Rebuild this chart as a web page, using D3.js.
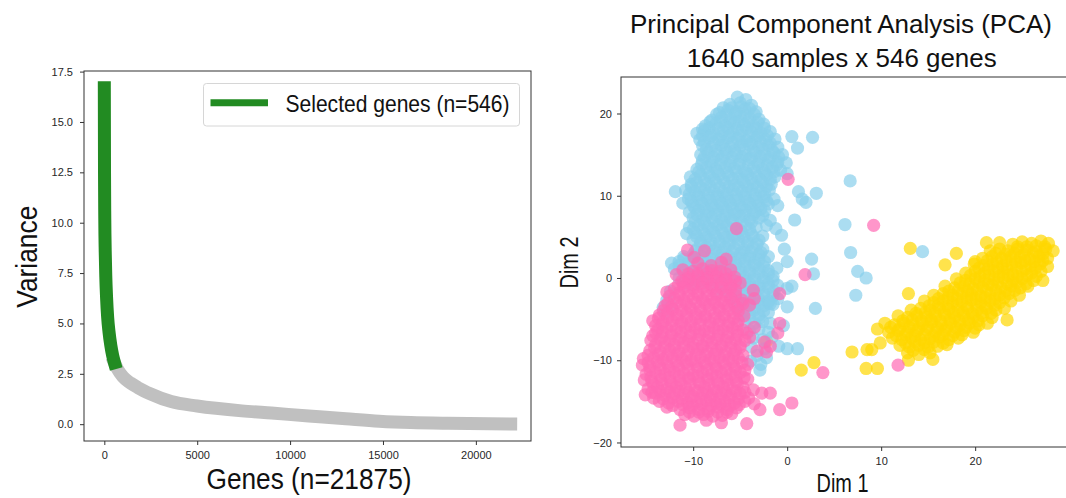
<!DOCTYPE html>
<html>
<head>
<meta charset="utf-8">
<script src="https://cdn.jsdelivr.net/npm/d3@7"></script>
<style>
  html, body { margin: 0; padding: 0; background: #fff; }
  svg { display: block; }
</style>
</head>
<body>
<svg id="fig" width="1066" height="498"></svg>
<script>
// ---------------------------------------------------------------
// Gene variance ranking: [gene rank, variance]
// ---------------------------------------------------------------
const nGenes = 21875;
const nSelected = 546;
const selectedCurve = [
  [0, 16.7], [10, 12.5], [25, 10.2], [50, 8.5], [80, 7.3], [120, 6.3],
  [180, 5.3], [250, 4.6], [350, 3.9], [450, 3.4], [546, 3.05]
];
const remainingCurve = [
  [546, 3.05], [700, 2.75], [1000, 2.35], [1400, 2.05], [1800, 1.82],
  [2500, 1.5], [3600, 1.12], [5000, 0.9], [7400, 0.66], [9000, 0.55],
  [11000, 0.41], [13000, 0.27], [14800, 0.15], [16500, 0.08],
  [18500, 0.04], [21874, 0.01]
];
const varianceTicks = [0, 2.5, 5, 7.5, 10, 12.5, 15, 17.5];
const geneTicks = [0, 5000, 10000, 15000, 20000];

// ---------------------------------------------------------------
// PCA scores of the samples (Dim 1, Dim 2), one array per group
// ---------------------------------------------------------------
const pcaXTicks = [-10, 0, 10, 20];
const pcaYTicks = [-20, -10, 0, 10, 20];

const groupBlue = [
  [-5.3,22.0],[-4.4,21.7],
  [-6.1,21.1],[-5.0,21.3],[-3.8,21.0],
  [-6.8,20.7],[-5.9,20.7],[-4.9,20.8],[-4.0,20.6],
  [-7.2,20.1],[-6.3,20.4],[-5.4,20.2],[-4.5,20.5],[-3.3,20.2],
  [-7.5,19.9],[-6.5,19.8],[-5.5,19.9],[-4.5,19.8],[-3.5,19.9],
  [-8.0,19.2],[-7.0,19.5],[-6.0,19.3],[-5.0,19.6],[-4.0,19.4],[-3.0,19.3],
  [-8.2,19.0],[-7.1,19.0],[-6.1,18.9],[-5.1,19.0],[-4.1,19.0],[-3.1,18.9],
  [-8.7,18.5],[-7.6,18.7],[-6.6,18.5],[-5.6,18.8],[-4.6,18.6],[-3.6,18.5],[-2.5,18.7],
  [-9.0,18.1],[-8.3,18.2],[-7.3,18.1],[-6.3,18.2],[-5.3,18.1],[-4.3,18.2],[-3.3,18.1],[-2.4,18.2],
  [-9.6,17.6],[-8.8,17.9],[-7.8,17.6],[-6.8,17.8],[-5.8,17.6],[-4.8,17.9],[-3.8,17.7],[-2.8,17.6],[-1.8,17.8],
  [-9.0,17.3],[-8.1,17.3],[-7.1,17.2],[-6.1,17.3],[-5.1,17.3],[-4.1,17.2],[-3.1,17.3],[-2.1,17.3],
  [-9.3,16.8],[-8.3,17.0],[-7.3,16.8],[-6.3,17.0],[-5.3,16.9],[-4.3,16.7],[-3.3,17.0],[-2.3,16.8],[-1.3,16.9],
  [-8.8,16.5],[-7.8,16.4],[-6.8,16.5],[-5.8,16.4],[-4.8,16.5],[-3.8,16.4],[-2.8,16.5],[-1.8,16.4],
  [-9.0,16.1],[-8.0,15.9],[-7.0,16.1],[-6.0,15.9],[-5.0,16.0],[-4.0,16.2],[-3.0,15.9],[-2.0,16.1],[-1.0,15.9],
  [-8.6,15.6],[-7.6,15.5],[-6.6,15.6],[-5.6,15.5],[-4.6,15.6],[-3.6,15.5],[-2.6,15.6],[-1.6,15.5],
  [-9.2,15.0],[-8.4,15.2],[-7.4,15.0],[-6.4,15.2],[-5.4,15.1],[-4.4,14.9],[-3.4,15.2],[-2.4,15.0],[-1.4,15.2],[-0.5,15.0],
  [-8.8,14.7],[-7.8,14.6],[-6.8,14.7],[-5.8,14.6],[-4.8,14.7],[-3.8,14.6],[-2.8,14.7],[-1.8,14.6],[-0.9,14.7],
  [-9.0,14.3],[-8.0,14.1],[-7.0,14.3],[-6.0,14.1],[-5.0,14.2],[-4.0,14.4],[-3.0,14.1],[-2.0,14.3],[-1.0,14.1],[-0.1,14.0],
  [-9.1,13.8],[-8.1,13.7],[-7.1,13.8],[-6.1,13.7],[-5.1,13.8],[-4.1,13.7],[-3.1,13.8],[-2.1,13.7],[-1.1,13.8],
  [-9.6,13.2],[-8.6,13.4],[-7.6,13.2],[-6.6,13.4],[-5.6,13.3],[-4.6,13.1],[-3.6,13.4],[-2.6,13.2],[-1.6,13.4],[-0.7,13.1],
  [-9.4,12.9],[-8.4,12.8],[-7.4,12.9],[-6.4,12.8],[-5.4,12.9],[-4.4,12.8],[-3.4,12.9],[-2.4,12.8],[-1.4,12.9],
  [-10.3,12.3],[-9.2,12.5],[-8.2,12.3],[-7.2,12.5],[-6.2,12.4],[-5.2,12.2],[-4.2,12.5],[-3.2,12.3],[-2.2,12.5],[-1.3,12.3],
  [-9.8,12.0],[-8.8,11.9],[-7.8,12.0],[-6.8,11.9],[-5.8,12.0],[-4.8,11.9],[-3.8,12.0],[-2.8,11.9],[-1.8,12.0],
  [-10.2,11.4],[-9.6,11.6],[-8.6,11.4],[-7.6,11.6],[-6.6,11.5],[-5.6,11.3],[-4.6,11.6],[-3.6,11.4],[-2.6,11.6],[-1.7,11.4],
  [-10.2,11.1],[-9.2,11.0],[-8.2,11.1],[-7.2,11.0],[-6.2,11.1],[-5.2,11.0],[-4.2,11.1],[-3.2,11.0],[-2.2,11.1],
  [-11.9,10.5],[-10.8,10.7],[-9.8,10.5],[-8.8,10.7],[-7.8,10.6],[-6.8,10.4],[-5.8,10.7],[-4.8,10.5],[-3.8,10.7],[-2.8,10.5],[-1.9,10.7],
  [-10.4,10.2],[-9.4,10.1],[-8.4,10.2],[-7.4,10.1],[-6.4,10.2],[-5.4,10.1],[-4.4,10.2],[-3.4,10.1],[-2.4,10.2],
  [-10.5,9.6],[-9.5,9.8],[-8.5,9.6],[-7.5,9.8],[-6.5,9.7],[-5.5,9.5],[-4.5,9.8],[-3.5,9.6],[-2.5,9.8],[-1.4,9.6],
  [-10.2,9.3],[-9.2,9.3],[-8.2,9.4],[-7.2,9.3],[-6.2,9.3],[-5.2,9.4],[-4.2,9.3],[-3.2,9.3],[-2.2,9.4],
  [-11.1,9.1],[-10.0,8.8],[-9.0,9.0],[-8.0,8.8],[-7.0,9.0],[-6.0,8.9],[-5.0,8.7],[-4.0,9.0],[-3.0,8.8],[-2.0,9.0],[-1.0,8.8],
  [-9.8,8.5],[-8.8,8.4],[-7.8,8.5],[-6.8,8.5],[-5.8,8.4],[-4.8,8.5],[-3.8,8.5],[-2.8,8.4],
  [-10.4,8.0],[-9.4,8.2],[-8.4,8.0],[-7.4,8.2],[-6.4,8.1],[-5.4,7.9],[-4.4,8.2],[-3.4,8.0],[-2.4,8.2],
  [-9.6,7.7],[-8.6,7.6],[-7.6,7.7],[-6.6,7.6],[-5.6,7.7],[-4.6,7.6],[-3.6,7.7],[-2.6,7.6],
  [-10.0,7.3],[-9.0,7.1],[-8.0,7.3],[-7.0,7.1],[-6.0,7.2],[-5.0,7.4],[-4.0,7.1],[-3.0,7.3],[-1.8,7.0],
  [-9.8,6.8],[-8.8,6.7],[-7.8,6.8],[-6.8,6.7],[-5.8,6.8],[-4.8,6.7],[-3.8,6.8],
  [-10.4,6.2],[-9.4,6.4],[-8.4,6.2],[-7.4,6.4],[-6.4,6.3],[-5.4,6.1],[-4.4,6.4],[-3.3,6.2],[-2.2,6.4],
  [-10.0,5.9],[-9.0,5.8],[-8.0,5.9],[-7.0,5.8],[-6.0,5.9],[-5.0,5.8],[-4.0,5.9],
  [-10.7,5.4],[-9.8,5.5],[-8.8,5.3],[-7.8,5.5],[-6.8,5.4],[-5.8,5.2],[-4.8,5.5],[-3.8,5.3],[-2.6,5.1],
  [-9.6,5.0],[-8.6,4.9],[-7.6,5.0],[-6.6,4.9],[-5.6,5.0],[-4.6,4.9],[-3.6,5.0],
  [-10.0,4.6],[-9.2,4.4],[-8.2,4.6],[-7.2,4.4],[-6.2,4.5],[-5.2,4.7],[-4.2,4.4],[-3.0,4.6],
  [-9.2,4.1],[-8.2,4.0],[-7.2,4.1],[-6.2,4.0],[-5.2,4.1],[-4.2,4.0],[-3.2,4.1],
  [-9.6,3.5],[-8.6,3.7],[-7.6,3.5],[-6.6,3.7],[-5.6,3.6],[-4.6,3.4],[-3.6,3.7],[-2.6,3.5],
  [-9.8,3.2],[-8.8,3.1],[-7.8,3.2],[-6.8,3.1],[-5.8,3.2],[-4.8,3.1],[-3.8,3.2],[-2.8,3.1],
  [-11.0,2.6],[-10.0,2.8],[-9.0,2.6],[-8.0,2.8],[-7.0,2.7],[-6.0,2.5],[-5.0,2.8],[-4.0,2.6],[-3.0,2.8],[-2.0,2.6],
  [-11.0,2.3],[-10.0,2.3],[-9.0,2.2],[-8.0,2.3],[-7.0,2.3],[-6.0,2.2],[-5.0,2.3],[-4.0,2.3],[-3.0,2.2],
  [-12.3,1.8],[-11.5,2.0],[-10.5,1.8],[-9.5,2.0],[-8.5,1.9],[-7.5,1.7],[-6.5,2.0],[-5.5,1.8],[-4.5,2.0],[-3.5,1.8],[-2.4,2.0],
  [-11.5,1.5],[-10.5,1.4],[-9.5,1.5],[-8.5,1.4],[-7.5,1.5],[-6.5,1.4],[-5.5,1.5],[-4.5,1.4],[-3.5,1.5],[-2.5,1.4],
  [-12.0,1.1],[-11.0,0.9],[-10.0,1.1],[-9.0,0.9],[-8.0,1.0],[-7.0,1.2],[-6.0,0.9],[-5.0,1.1],[-4.0,0.9],[-3.0,1.1],[-2.0,0.9],
  [-11.0,0.6],[-10.0,0.5],[-9.0,0.6],[-8.0,0.5],[-7.0,0.6],[-6.0,0.5],[-5.0,0.6],[-4.0,0.5],[-3.0,0.6],[-2.0,0.5],
  [-11.5,0.0],[-10.5,0.2],[-9.5,0.0],[-8.5,0.2],[-7.5,0.1],[-6.5,-0.1],[-5.5,0.2],[-4.5,0.0],[-3.5,0.2],[-2.5,0.0],[-1.5,0.2],
  [-10.5,-0.4],[-9.5,-0.3],[-8.5,-0.4],[-7.5,-0.3],[-6.5,-0.4],[-5.5,-0.3],[-4.5,-0.4],[-3.5,-0.3],[-2.5,-0.4],[-1.5,-0.3],
  [-11.0,-0.7],[-10.0,-0.9],[-9.0,-0.7],[-8.0,-0.9],[-7.0,-0.8],[-6.0,-0.6],[-5.0,-0.9],[-4.0,-0.7],[-3.0,-0.9],[-2.0,-0.7],[-1.0,-0.9],
  [-7.0,-1.3],[-6.0,-1.2],[-5.0,-1.3],[-4.0,-1.2],[-3.0,-1.3],[-2.0,-1.2],
  [-12.4,-1.6],[-7.5,-1.8],[-6.5,-1.6],[-5.5,-1.8],[-4.5,-1.7],[-3.5,-1.5],[-2.5,-1.8],[-1.4,-1.6],
  [-5.5,-2.2],[-4.5,-2.1],[-3.5,-2.2],[-2.5,-2.1],[-1.5,-2.2],
  [-12.8,-2.7],[-6.0,-2.5],[-5.0,-2.7],[-4.0,-2.5],[-3.0,-2.6],[-2.0,-2.8],[-1.0,-2.5],
  [-5.0,-3.1],[-4.0,-3.0],[-3.0,-3.1],[-2.0,-3.0],
  [-13.2,-3.6],[-12.3,-3.4],[-5.5,-3.5],[-4.5,-3.3],[-3.5,-3.6],[-2.5,-3.4],[-1.5,-3.2],[0.0,-3.5],
  [-4.5,-4.0],[-3.5,-3.9],[-2.5,-4.0],
  [-13.0,-4.3],[-5.0,-4.5],[-4.0,-4.3],[-3.0,-4.5],[-2.0,-4.2],
  [-4.0,-4.9],[-3.0,-4.9],
  [-4.5,-5.3],[-3.5,-5.5],[-2.6,-5.3],[-1.8,-5.5],
  [-4.0,-6.4],[-3.0,-6.2],[-2.0,-6.6],
  [-3.6,-7.3],[-2.6,-7.5],[-1.6,-7.2],
  [-3.8,-8.4],[-2.4,-8.6],[-0.9,-8.3],[0.0,-8.6],[1.1,-8.6],
  [-3.2,-9.4],[-2.2,-9.7],
  [-3.9,-10.1],[-2.8,-10.5],
  [-2.9,-11.2],
  [0.5,17.2],[2.7,17.1],[1.1,15.8],[0.0,12.7],[1.2,10.5],[2.0,9.2],[1.6,9.6],[3.1,10.3],
  [0.8,7.05],[-0.6,5.2],[0.0,2.0],[2.6,2.3],[2.8,0.5],[-1.1,1.2],[0.0,-1.25],[0.5,-1.0],
  [-1.8,-3.1],[3.0,-3.7],[-0.4,-5.8],[-0.3,3.5],[-1.2,6.0],
  [6.7,11.8],[6.15,6.5],[6.75,3.1],[7.5,0.8],[8.4,0.0],[7.3,-2.1],[14.4,3.2]
];

const groupPink = [
  [-10.6,3.4],[-8.8,3.3],
  [-6.5,2.3],[-9.9,2.5],
  [-9.5,1.8],[-8.1,1.5],[-7.0,1.9],
  [-11.1,1.0],[-10.0,0.8],[-9.0,1.1],[-8.0,0.9],[-7.1,0.8],[-6.0,1.0],
  [-10.5,0.5],[-9.5,0.5],[-8.5,0.6],[-7.5,0.5],[-6.5,0.5],
  [-11.8,0.4],[-10.5,0.0],[-9.5,0.2],[-8.5,0.0],[-7.5,0.1],[-6.5,-0.1],[-5.6,0.1],
  [-11.2,-0.4],[-10.5,-0.3],[-9.5,-0.4],[-8.5,-0.3],[-7.5,-0.4],[-6.5,-0.3],[-5.5,-0.4],
  [-11.6,-0.9],[-11.0,-0.6],[-10.0,-0.8],[-9.0,-0.6],[-8.0,-0.9],[-7.0,-0.7],[-6.0,-0.9],[-5.0,-0.6],
  [-12.0,-1.3],[-11.0,-1.2],[-10.0,-1.3],[-9.0,-1.2],[-8.0,-1.3],[-7.0,-1.2],[-6.0,-1.3],
  [-12.8,-1.7],[-11.5,-1.8],[-10.5,-1.6],[-9.5,-1.8],[-8.5,-1.6],[-7.5,-1.9],[-6.5,-1.7],[-5.5,-1.5],[-3.6,-1.5],[-0.8,-1.9],
  [-12.5,-2.2],[-11.5,-2.1],[-10.5,-2.2],[-9.5,-2.1],[-8.5,-2.2],[-7.5,-2.1],[-6.5,-2.2],[-5.5,-2.1],
  [-12.0,-2.5],[-11.0,-2.7],[-10.0,-2.5],[-9.0,-2.7],[-8.0,-2.6],[-7.0,-2.8],[-6.0,-2.5],[-4.8,-2.7],[-3.5,-2.5],
  [-12.7,-3.1],[-11.7,-3.0],[-10.7,-3.1],[-9.7,-3.0],[-8.7,-3.1],[-7.7,-3.0],[-6.7,-3.1],[-5.7,-3.0],[-4.7,-3.1],
  [-13.0,-3.4],[-12.3,-3.6],[-11.3,-3.4],[-10.3,-3.6],[-9.3,-3.5],[-8.3,-3.3],[-7.3,-3.6],[-6.3,-3.4],[-5.3,-3.6],[-4.0,-3.3],
  [-13.2,-4.0],[-12.2,-3.9],[-11.2,-4.0],[-10.2,-3.9],[-9.2,-4.0],[-8.2,-3.9],[-7.2,-4.0],[-6.2,-3.9],[-5.2,-4.0],
  [-13.6,-4.5],[-12.7,-4.3],[-11.7,-4.5],[-10.7,-4.3],[-9.7,-4.4],[-8.7,-4.6],[-7.7,-4.3],[-6.7,-4.5],[-5.7,-4.3],[-4.6,-4.6],
  [-13.7,-4.9],[-12.7,-4.8],[-11.7,-4.9],[-10.7,-4.8],[-9.7,-4.9],[-8.7,-4.8],[-7.7,-4.9],[-6.7,-4.8],[-5.7,-4.9],
  [-14.3,-5.2],[-13.2,-5.4],[-12.2,-5.2],[-11.2,-5.4],[-10.2,-5.3],[-9.2,-5.1],[-8.2,-5.4],[-7.2,-5.2],[-6.2,-5.4],[-5.2,-5.2],[-0.8,-5.5],
  [-14.0,-5.8],[-13.3,-5.7],[-12.3,-5.8],[-11.3,-5.7],[-10.3,-5.8],[-9.3,-5.7],[-8.3,-5.8],[-7.3,-5.7],[-6.3,-5.8],[-5.3,-5.7],
  [-13.8,-6.3],[-12.8,-6.1],[-11.8,-6.3],[-10.8,-6.1],[-9.8,-6.2],[-8.8,-6.4],[-7.8,-6.1],[-6.8,-6.3],[-5.8,-6.1],[-4.7,-6.3],[-3.5,-6.0],[-1.0,-6.7],
  [-14.0,-6.7],[-13.3,-6.6],[-12.3,-6.7],[-11.3,-6.6],[-10.3,-6.7],[-9.3,-6.6],[-8.3,-6.7],[-7.3,-6.6],[-6.3,-6.7],[-5.3,-6.6],[-4.3,-6.7],
  [-14.3,-7.0],[-13.3,-7.2],[-12.3,-7.0],[-11.3,-7.2],[-10.3,-7.1],[-9.3,-6.9],[-8.3,-7.2],[-7.3,-7.0],[-6.3,-7.2],[-5.3,-7.0],[-4.0,-7.2],
  [-14.5,-7.6],[-13.5,-7.5],[-12.5,-7.6],[-11.5,-7.5],[-10.5,-7.6],[-9.5,-7.5],[-8.5,-7.6],[-7.5,-7.5],[-6.5,-7.6],[-5.5,-7.5],[-4.5,-7.6],
  [-14.0,-8.1],[-13.0,-7.9],[-12.0,-8.1],[-11.0,-7.9],[-10.0,-8.0],[-9.0,-8.2],[-8.0,-7.9],[-7.0,-8.1],[-6.0,-7.9],[-5.0,-8.1],[-2.4,-7.8],[-1.8,-8.3],
  [-14.1,-8.5],[-13.0,-8.4],[-12.0,-8.5],[-11.0,-8.4],[-10.0,-8.5],[-9.0,-8.4],[-8.0,-8.5],[-7.0,-8.4],[-6.0,-8.5],[-5.0,-8.4],
  [-14.6,-8.8],[-13.5,-9.0],[-12.5,-8.8],[-11.5,-9.0],[-10.5,-8.9],[-9.5,-8.7],[-8.5,-9.0],[-7.5,-8.8],[-6.5,-9.0],[-5.5,-8.8],[-3.2,-8.9],[-2.2,-9.0],
  [-14.8,-9.4],[-13.7,-9.3],[-12.7,-9.4],[-11.7,-9.3],[-10.7,-9.4],[-9.7,-9.3],[-8.7,-9.4],[-7.7,-9.3],[-6.7,-9.4],[-5.7,-9.3],[-4.7,-9.4],
  [-15.3,-9.8],[-14.2,-9.7],[-13.2,-9.9],[-12.2,-9.7],[-11.2,-9.8],[-10.2,-10.0],[-9.2,-9.7],[-8.2,-9.9],[-7.2,-9.7],[-6.2,-9.9],[-5.2,-9.7],
  [-14.8,-10.3],[-13.8,-10.2],[-12.8,-10.3],[-11.8,-10.2],[-10.8,-10.3],[-9.8,-10.2],[-8.8,-10.3],[-7.8,-10.2],[-6.8,-10.3],[-5.8,-10.2],[-4.8,-10.3],
  [-15.4,-10.6],[-14.6,-10.8],[-13.6,-10.6],[-12.6,-10.8],[-11.6,-10.7],[-10.6,-10.5],[-9.6,-10.8],[-8.6,-10.6],[-7.6,-10.8],[-6.6,-10.6],[-5.6,-10.8],[-4.2,-10.5],
  [-14.6,-11.2],[-13.5,-11.1],[-12.5,-11.2],[-11.5,-11.1],[-10.5,-11.2],[-9.5,-11.1],[-8.5,-11.2],[-7.5,-11.1],[-6.5,-11.2],[-5.5,-11.1],[-4.5,-11.2],
  [-15.0,-11.7],[-14.0,-11.5],[-13.0,-11.7],[-12.0,-11.5],[-11.0,-11.6],[-10.0,-11.8],[-9.0,-11.5],[-8.0,-11.7],[-7.0,-11.5],[-6.0,-11.7],[-5.0,-11.5],[3.8,-11.5],
  [-14.5,-12.1],[-13.5,-12.0],[-12.5,-12.1],[-11.5,-12.0],[-10.5,-12.1],[-9.5,-12.0],[-8.5,-12.1],[-7.5,-12.0],[-6.5,-12.1],[-5.5,-12.0],[-4.6,-12.1],
  [-15.2,-12.4],[-14.4,-12.6],[-13.4,-12.4],[-12.4,-12.6],[-11.4,-12.5],[-10.4,-12.3],[-9.4,-12.6],[-8.4,-12.4],[-7.4,-12.6],[-6.4,-12.4],[-5.4,-12.6],[-4.2,-12.3],
  [-14.2,-13.0],[-13.3,-12.9],[-12.3,-13.0],[-11.3,-12.9],[-10.3,-13.0],[-9.3,-12.9],[-8.3,-13.0],[-7.3,-12.9],[-6.3,-13.0],[-5.3,-12.9],
  [-14.8,-13.5],[-13.8,-13.3],[-12.8,-13.5],[-11.8,-13.3],[-10.8,-13.4],[-9.8,-13.6],[-8.8,-13.3],[-7.8,-13.5],[-6.8,-13.3],[-5.8,-13.5],[-4.7,-13.3],[-3.6,-13.6],
  [-14.4,-13.9],[-13.5,-13.8],[-12.5,-13.9],[-11.5,-13.8],[-10.5,-13.9],[-9.5,-13.8],[-8.5,-13.9],[-7.5,-13.8],[-6.5,-13.9],[-5.5,-13.8],[-4.5,-13.9],
  [-15.1,-14.2],[-14.0,-14.0],[-13.0,-14.3],[-12.0,-14.1],[-11.0,-14.2],[-10.0,-14.4],[-9.0,-14.1],[-8.0,-14.3],[-7.0,-14.1],[-6.0,-14.3],[-5.0,-14.1],[-2.7,-14.0],[-1.8,-14.0],
  [-14.2,-14.6],[-13.2,-14.7],[-12.2,-14.6],[-11.2,-14.7],[-10.2,-14.6],[-9.2,-14.7],[-8.2,-14.6],[-7.2,-14.7],[-6.2,-14.6],[-5.2,-14.7],[-4.1,-14.6],
  [-13.6,-15.0],[-12.6,-15.2],[-11.6,-15.0],[-10.6,-15.2],[-9.6,-15.1],[-8.6,-14.9],[-7.6,-15.2],[-6.6,-15.0],[-5.6,-15.2],[-4.5,-15.0],[-3.5,-15.3],[0.5,-15.2],
  [-12.2,-15.5],[-11.1,-15.4],[-10.1,-15.5],[-9.1,-15.4],[-8.1,-15.5],[-7.1,-15.4],[-6.1,-15.5],[-5.1,-15.4],
  [-12.8,-15.7],[-11.4,-16.0],[-10.4,-15.8],[-9.4,-16.0],[-8.4,-15.9],[-7.4,-15.7],[-6.4,-16.0],[-5.4,-15.8],[-2.9,-16.0],[-0.8,-16.0],
  [-10.4,-16.3],[-9.4,-16.3],[-8.4,-16.2],[-7.4,-16.3],[-6.4,-16.3],
  [-10.9,-16.6],[-9.9,-16.8],[-8.9,-16.6],[-7.9,-16.8],[-6.9,-16.7],[-5.9,-16.5],
  [-11.4,-17.9],[-8.6,-17.3],[-7.0,-17.6],[-4.3,-17.7],
  [-5.4,6.0],[0.1,12.0],[9.2,6.4],[1.9,0.4],[11.8,-10.6]
];

const groupGold = [
  [24.0,4.1],[25.0,4.4],[26.0,4.2],[27.0,4.5],[27.8,4.2],
  [24.5,3.8],[25.5,3.8],[26.5,3.9],[27.4,3.8],
  [21.6,3.3],[22.6,3.5],[23.5,3.3],[24.5,3.5],[25.5,3.4],[26.5,3.2],[27.5,3.5],[28.3,3.3],
  [22.2,3.0],[23.2,2.9],[24.2,3.0],[25.2,2.9],[26.2,3.0],[27.2,2.9],
  [20.8,2.4],[21.8,2.6],[22.8,2.4],[23.8,2.6],[24.8,2.5],[25.8,2.3],[26.8,2.6],[27.7,2.4],
  [21.3,2.1],[22.3,2.0],[23.3,2.1],[24.3,2.0],[25.3,2.1],[26.3,2.0],[27.2,2.1],
  [19.9,1.7],[20.9,1.5],[21.9,1.7],[22.9,1.5],[23.9,1.6],[24.9,1.8],[25.9,1.5],[26.9,1.7],[27.7,1.4],
  [20.4,1.2],[21.4,1.1],[22.4,1.2],[23.4,1.1],[24.4,1.2],[25.4,1.1],[26.4,1.2],
  [19.0,0.6],[20.0,0.8],[21.0,0.6],[22.0,0.8],[23.0,0.7],[24.0,0.5],[25.0,0.8],[26.0,0.6],[27.0,0.8],
  [19.5,0.3],[20.5,0.2],[21.5,0.3],[22.5,0.2],[23.5,0.3],[24.5,0.2],[25.5,0.3],[26.5,0.2],
  [18.0,-0.1],[19.0,-0.3],[20.0,-0.1],[21.0,-0.3],[22.0,-0.2],[23.0,0.0],[24.0,-0.3],[25.0,-0.1],[26.2,-0.3],[27.2,-0.3],
  [18.4,-0.6],[19.4,-0.7],[20.4,-0.6],[21.4,-0.7],[22.4,-0.6],[23.4,-0.7],[24.4,-0.6],[25.4,-0.7],
  [16.8,-1.0],[17.8,-1.2],[18.8,-1.0],[19.8,-1.2],[20.8,-1.1],[21.8,-0.9],[22.8,-1.2],[23.8,-1.0],[24.8,-1.2],[25.6,-1.0],
  [17.2,-1.6],[18.2,-1.5],[19.2,-1.6],[20.2,-1.5],[21.2,-1.6],[22.2,-1.5],[23.2,-1.6],[24.2,-1.5],
  [15.6,-2.1],[16.6,-1.9],[17.6,-2.1],[18.6,-1.9],[19.6,-2.0],[20.6,-2.2],[21.6,-1.9],[22.6,-2.1],[23.6,-1.9],[24.7,-2.1],
  [16.1,-2.5],[17.1,-2.4],[18.1,-2.5],[19.1,-2.4],[20.1,-2.5],[21.1,-2.4],[22.1,-2.5],[23.1,-2.4],
  [14.6,-2.8],[15.6,-3.0],[16.6,-2.8],[17.6,-3.0],[18.6,-2.9],[19.6,-2.7],[20.6,-3.0],[21.6,-2.8],[22.6,-3.0],[23.8,-2.8],
  [15.1,-3.4],[16.1,-3.3],[17.1,-3.4],[18.1,-3.3],[19.1,-3.4],[20.1,-3.3],[21.1,-3.4],[22.1,-3.3],
  [13.2,-3.9],[14.2,-3.7],[15.2,-3.9],[16.2,-3.7],[17.2,-3.8],[18.2,-4.0],[19.2,-3.7],[20.2,-3.9],[21.2,-3.7],[22.2,-3.9],[23.1,-3.7],
  [13.7,-4.3],[14.7,-4.2],[15.7,-4.3],[16.7,-4.2],[17.7,-4.3],[18.7,-4.2],[19.7,-4.3],[20.7,-4.2],[21.7,-4.3],
  [11.8,-4.6],[12.8,-4.8],[13.8,-4.6],[14.8,-4.8],[15.8,-4.7],[16.8,-4.5],[17.8,-4.8],[18.8,-4.6],[19.8,-4.8],[20.8,-4.6],[21.8,-4.8],[23.4,-5.1],
  [12.3,-5.2],[13.3,-5.1],[14.3,-5.2],[15.3,-5.1],[16.3,-5.2],[17.3,-5.1],[18.3,-5.2],[19.3,-5.1],[20.3,-5.2],
  [10.4,-5.5],[11.4,-5.7],[12.4,-5.5],[13.4,-5.7],[14.4,-5.6],[15.4,-5.4],[16.4,-5.7],[17.4,-5.5],[18.4,-5.7],[19.4,-5.5],[20.4,-5.7],[21.3,-5.5],
  [11.0,-6.0],[12.0,-6.1],[13.0,-6.0],[14.0,-6.1],[15.0,-6.0],[16.0,-6.1],[17.0,-6.0],[18.0,-6.1],[19.0,-6.0],[20.0,-6.1],
  [9.6,-6.2],[10.8,-6.6],[11.8,-6.4],[12.8,-6.6],[13.8,-6.5],[14.8,-6.3],[15.8,-6.6],[16.8,-6.4],[17.8,-6.6],[18.8,-6.4],[19.8,-6.6],
  [11.6,-7.0],[12.6,-6.9],[13.6,-7.0],[14.6,-6.9],[15.6,-7.0],[16.6,-6.9],[17.6,-7.0],[18.6,-6.9],
  [11.2,-7.3],[12.2,-7.5],[13.2,-7.3],[14.2,-7.5],[15.2,-7.4],[16.2,-7.2],[17.2,-7.5],[18.2,-7.3],
  [12.6,-7.9],[13.6,-7.8],[14.6,-7.9],[15.6,-7.8],[16.6,-7.9],
  [12.0,-8.2],[13.0,-8.4],[14.0,-8.2],[15.0,-8.4],[16.0,-8.3],[17.0,-8.1],
  [13.4,-8.8],[14.6,-8.7],
  [12.8,-9.1],[14.0,-9.3],[15.2,-9.1],
  [13.1,3.6],[18.0,3.0],[16.8,1.6],[12.9,-1.9],[21.2,4.3],[22.6,4.3],[20.0,2.0],
  [6.9,-9.0],[8.5,-8.7],[9.0,-8.7],[9.9,-7.9],[8.4,-11.0],[9.6,-11.0],[12.9,-10.0],[15.5,-9.9],
  [1.5,-11.2],[2.85,-10.3],[-2.2,-7.7]
];

// ---------------------------------------------------------------
// Drawing
// ---------------------------------------------------------------
const svg = d3.select("#fig");
const tickFont = "'Liberation Sans', Arial, Helvetica, sans-serif";
const labelFont = "'Liberation Sans Narrow', 'Arial Narrow', 'Liberation Sans', Arial, sans-serif";
const spineColor = "#333";

function styleAxis(g) {
  g.select(".domain").remove();
  g.selectAll(".tick line").attr("stroke", spineColor).attr("stroke-width", 1);
  g.selectAll(".tick text")
    .attr("fill", "#262626")
    .style("font-family", tickFont)
    .style("font-size", "11px");
}

function fitText(sel, width) {
  sel.attr("textLength", width).attr("lengthAdjust", "spacingAndGlyphs");
  return sel;
}

// ---------- Left panel: ranked variance curve ----------
const L = { x0: 84, x1: 531, y0: 71, y1: 441 };
const xGene = d3.scaleLinear().domain([-1094, 22968]).range([L.x0, L.x1]);
const yVar = d3.scaleLinear().domain([-0.835, 17.53]).range([L.y1, L.y0]);

const left = svg.append("g");

const curve = d3.line()
  .x(d => xGene(d[0]))
  .y(d => yVar(d[1]))
  .curve(d3.curveMonotoneX);

left.append("path")
  .datum(remainingCurve)
  .attr("d", curve)
  .attr("fill", "none")
  .attr("stroke", "#c0c0c0")
  .attr("stroke-width", 13)
  .attr("stroke-linecap", "square")
  .attr("stroke-linejoin", "round");

left.append("path")
  .datum(selectedCurve)
  .attr("d", curve)
  .attr("fill", "none")
  .attr("stroke", "#228b22")
  .attr("stroke-width", 13)
  .attr("stroke-linecap", "square")
  .attr("stroke-linejoin", "round");

left.append("g")
  .attr("transform", `translate(${L.x0},0)`)
  .call(d3.axisLeft(yVar).tickValues(varianceTicks).tickFormat(d3.format(".1f")).tickSize(4).tickPadding(7))
  .call(styleAxis);

left.append("g")
  .attr("transform", `translate(0,${L.y1})`)
  .call(d3.axisBottom(xGene).tickValues(geneTicks).tickFormat(d3.format("d")).tickSize(4).tickPadding(6))
  .call(styleAxis);

left.append("rect")
  .attr("x", L.x0).attr("y", L.y0)
  .attr("width", L.x1 - L.x0).attr("height", L.y1 - L.y0)
  .attr("fill", "none").attr("stroke", spineColor).attr("stroke-width", 1);

// legend
const lg = left.append("g");
lg.append("rect")
  .attr("x", 203.5).attr("y", 83.5).attr("width", 316).attr("height", 42.5)
  .attr("rx", 3).attr("fill", "#fff").attr("fill-opacity", 0.8)
  .attr("stroke", "#d6d6d6").attr("stroke-width", 1);
lg.append("line")
  .attr("x1", 210.5).attr("x2", 268).attr("y1", 102.7).attr("y2", 102.7)
  .attr("stroke", "#228b22").attr("stroke-width", 7);
fitText(lg.append("text")
  .attr("x", 285.5).attr("y", 111.5)
  .style("font-family", labelFont).style("font-size", "24px").attr("fill", "#111")
  .text(`Selected genes (n=${nSelected})`), 224);

// axis titles
fitText(left.append("text")
  .attr("transform", "translate(36.5,256.7) rotate(-90)")
  .attr("text-anchor", "middle")
  .style("font-family", labelFont).style("font-size", "30px").attr("fill", "#111")
  .text("Variance"), 102);

fitText(left.append("text")
  .attr("x", 309).attr("y", 488.5)
  .attr("text-anchor", "middle")
  .style("font-family", labelFont).style("font-size", "29px").attr("fill", "#111")
  .text(`Genes (n=${nGenes})`), 205);

// ---------- Right panel: PCA scatter ----------
const R = { x0: 621, x1: 1070, y0: 77, y1: 447 };
const xDim = d3.scaleLinear().domain([-17.68, 30.09]).range([R.x0, R.x1]);
const yDim = d3.scaleLinear().domain([-20.55, 24.44]).range([R.y1, R.y0]);

const right = svg.append("g");

svg.append("defs").append("clipPath").attr("id", "pcaClip")
  .append("rect").attr("x", R.x0).attr("y", R.y0).attr("width", R.x1 - R.x0).attr("height", R.y1 - R.y0);

const dots = right.append("g").attr("clip-path", "url(#pcaClip)");
const groups = [
  { pts: groupGold, color: "#ffd700" },
  { pts: groupBlue, color: "#87ceeb" },
  { pts: groupPink, color: "#ff69b4" }
];
groups.forEach(gr => {
  dots.append("g").selectAll("circle")
    .data(gr.pts)
    .join("circle")
    .attr("cx", d => xDim(d[0]))
    .attr("cy", d => yDim(d[1]))
    .attr("r", 6.6)
    .attr("fill", gr.color)
    .attr("fill-opacity", 0.7);
});

right.append("g")
  .attr("transform", `translate(${R.x0},0)`)
  .call(d3.axisLeft(yDim).tickValues(pcaYTicks).tickSize(4).tickPadding(5))
  .call(styleAxis);

right.append("g")
  .attr("transform", `translate(0,${R.y1})`)
  .call(d3.axisBottom(xDim).tickValues(pcaXTicks).tickSize(4).tickPadding(6))
  .call(styleAxis);

right.append("rect")
  .attr("x", R.x0).attr("y", R.y0)
  .attr("width", R.x1 - R.x0).attr("height", R.y1 - R.y0)
  .attr("fill", "none").attr("stroke", spineColor).attr("stroke-width", 1);

fitText(right.append("text")
  .attr("x", 841).attr("y", 33.3).attr("text-anchor", "middle")
  .style("font-family", labelFont).style("font-size", "26px").attr("fill", "#111")
  .text("Principal Component Analysis (PCA)"), 422);

fitText(right.append("text")
  .attr("x", 841.7).attr("y", 66.7).attr("text-anchor", "middle")
  .style("font-family", labelFont).style("font-size", "25px").attr("fill", "#111")
  .text(`1640 samples x ${nSelected} genes`), 310);

fitText(right.append("text")
  .attr("x", 842.5).attr("y", 491.7).attr("text-anchor", "middle")
  .style("font-family", labelFont).style("font-size", "25px").attr("fill", "#111")
  .text("Dim 1"), 52);

fitText(right.append("text")
  .attr("transform", "translate(578.3,262.5) rotate(-90)")
  .attr("text-anchor", "middle")
  .style("font-family", labelFont).style("font-size", "25px").attr("fill", "#111")
  .text("Dim 2"), 52);
</script>
</body>
</html>
